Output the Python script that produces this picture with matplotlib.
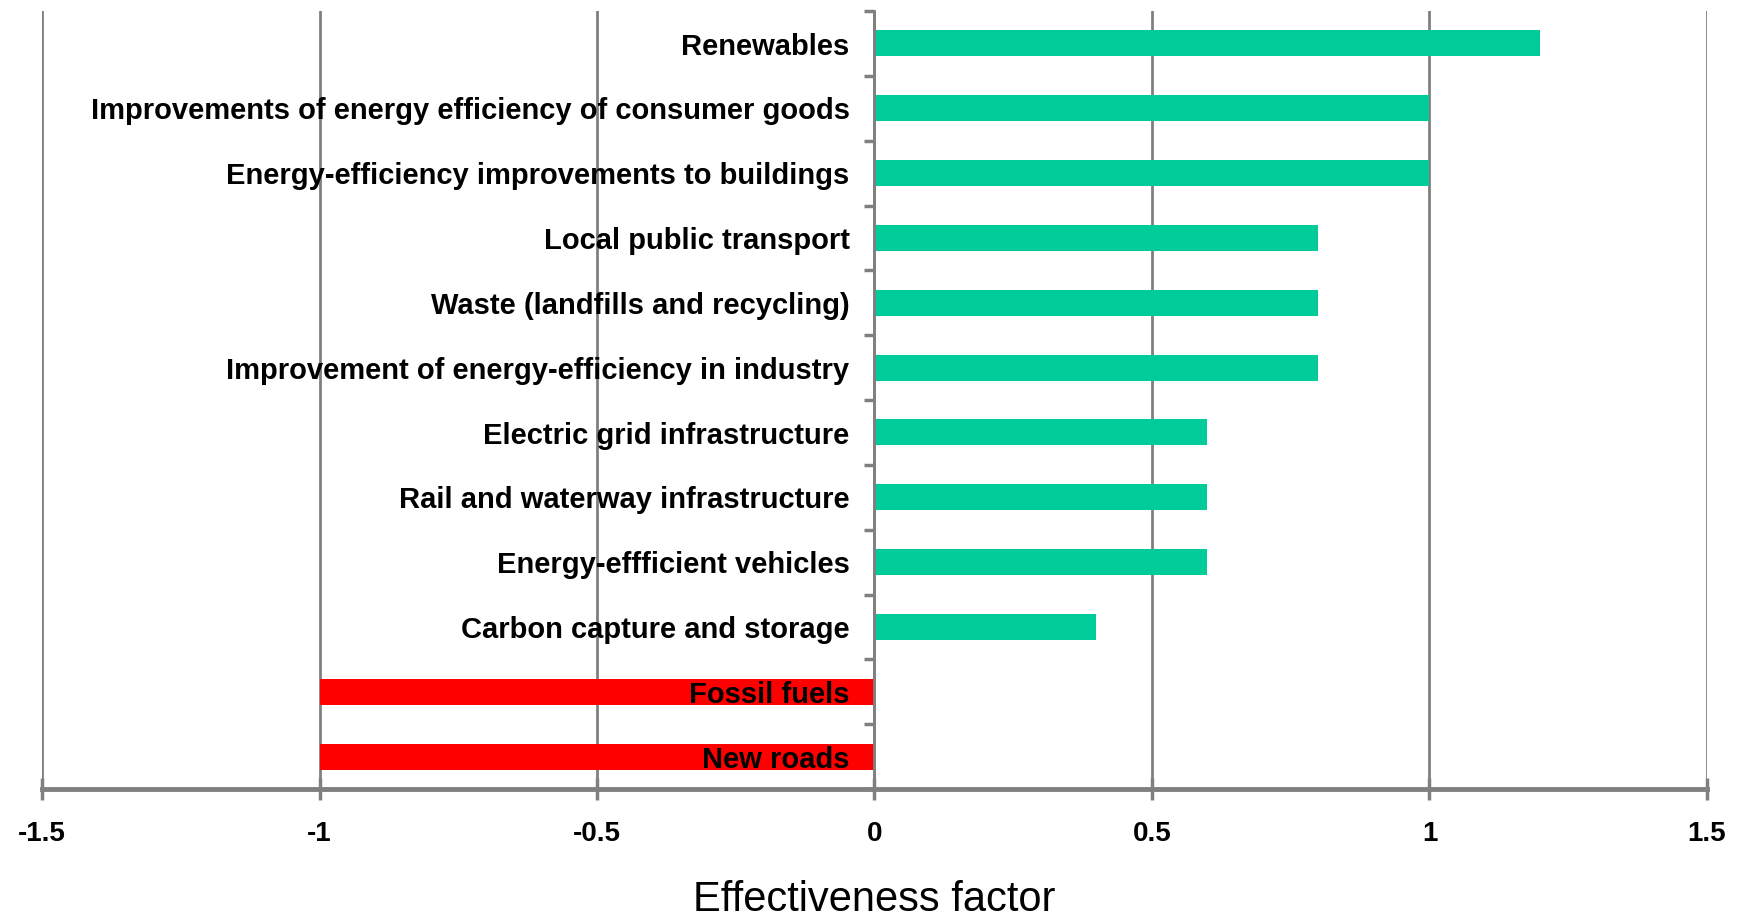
import numpy as np
import matplotlib
matplotlib.use("Agg")
import matplotlib.pyplot as plt

# measures, top to bottom
labels = ["Renewables",
          "Improvements of energy efficiency of consumer goods",
          "Energy-efficiency improvements to buildings",
          "Local public transport",
          "Waste (landfills and recycling)",
          "Improvement of energy-efficiency in industry",
          "Electric grid infrastructure",
          "Rail and waterway infrastructure",
          "Energy-effficient vehicles",
          "Carbon capture and storage",
          "Fossil fuels",
          "New roads"]
values = [1.2, 1.0, 1.0, 0.8, 0.8, 0.8, 0.6, 0.6, 0.6, 0.4, -1.0, -1.0]
xticks = [-1.5, -1, -0.5, 0, 0.5, 1, 1.5]
xticklabels = ["-1.5", "-1", "-0.5", "0", "0.5", "1", "1.5"]

green = "#00CC99"
red = "#FF0000"
grey = "#808080"

plt.rcParams['font.family'] = ['Liberation Sans', 'DejaVu Sans']

fig = plt.figure(figsize=(17.4, 9.21), dpi=100)
ax = fig.add_axes([42/1740, 1 - 789/921, (1707 - 42)/1740, (789 - 11)/921])

y = np.arange(len(labels))
colors = [green if v > 0 else red for v in values]
ax.barh(y, values, height=0.4, color=colors, zorder=3)

ax.set_xlim(-1.5, 1.5)
ax.set_ylim(len(labels) - 0.5, -0.5)

# vertical grid
ax.set_xticks(xticks)
ax.set_xticklabels(xticklabels, fontsize=20, fontweight='bold')
ax.grid(axis='x', color=grey, linewidth=2, zorder=1)
ax.set_axisbelow(True)

# y axis sits at zero, ticks between categories
for s in ['top', 'right']:
    ax.spines[s].set_visible(False)
ax.spines['left'].set_position(('data', 0))
ax.spines['left'].set_color(grey)
ax.spines['left'].set_linewidth(2)
ax.spines['left'].set_zorder(4)
ax.spines['bottom'].set_color(grey)
ax.spines['bottom'].set_linewidth(3.5)
ax.set_yticks(np.arange(len(labels) + 1) - 0.5)
ax.set_yticklabels([])
ax.tick_params(axis='y', direction='out', length=7, width=2.5, color=grey)
ax.tick_params(axis='x', direction='inout', length=16, width=2.5, color=grey, pad=15)

for yy, lab in zip(y, labels):
    ax.text(-0.045, yy + 0.05, lab, ha='right', va='center', fontsize=21,
            fontweight='bold', color='black', zorder=5)

ax.set_xlabel("Effectiveness factor", fontsize=30, labelpad=24)

fig.savefig("out.png", dpi=100)
